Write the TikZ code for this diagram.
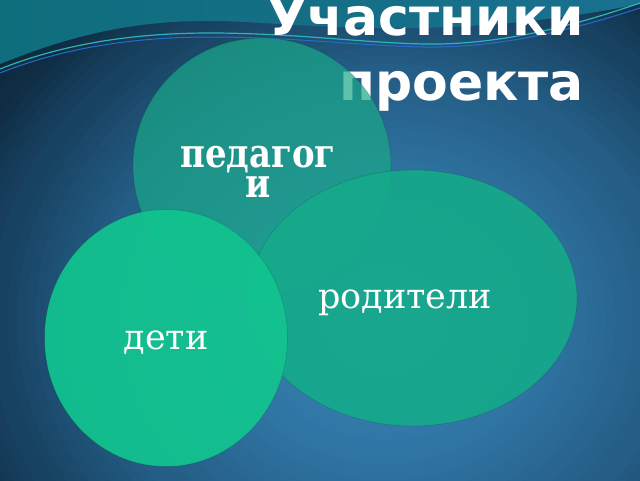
\documentclass[tikz,border=0pt]{standalone}
\usepackage{fontspec}
\usetikzlibrary{shapes.geometric}
\newfontfamily\ttlfont{DejaVu Sans Bold}
\newfontfamily\srffont{DejaVu Serif}
\newfontfamily\srfbfont[FakeStretch=0.85]{DejaVu Serif Bold}
\definecolor{bgA}{HTML}{3D8ABB}
\definecolor{bgB}{HTML}{3076A5}
\definecolor{bgC}{HTML}{245D85}
\definecolor{bgD}{HTML}{184262}
\definecolor{bgE}{HTML}{0E2C42}
\definecolor{bgF}{HTML}{081E2E}
\definecolor{waveL}{HTML}{0F6E7C}
\definecolor{waveR}{HTML}{1A7090}
\definecolor{lineC}{HTML}{2AB5B5}
\definecolor{lineB}{HTML}{2A6AD0}
\definecolor{pedC}{HTML}{1AA888}
\definecolor{rodC}{HTML}{15AA8A}
\definecolor{detC}{HTML}{12C48F}
\tikzset{
  blob/.style={ellipse, inner sep=0pt, outer sep=0pt, draw=black, draw opacity=0.12, line width=0.8pt},
  lbl/.style={text=white, inner sep=0pt, anchor=base},
  ttl/.style={text=white, inner sep=0pt, anchor=base east, font=\fontsize{52}{52}\ttlfont}
}
\begin{document}
\begin{tikzpicture}[x=1pt,y=-1pt]
\useasboundingbox (0,0) rectangle (640,480);
\clip (0,0) rectangle (640,480);
% background vignette
\fill[bgF] (0,0) rectangle (640,480);
\foreach \r in {480,472,...,408}{
  \pgfmathsetmacro\p{(480-\r)/72*100}
  \fill[bgE!\p!bgF] (385,320) ellipse [x radius=1.15*\r, y radius=\r];}
\foreach \r in {400,392,...,344}{
  \pgfmathsetmacro\p{(400-\r)/56*100}
  \fill[bgD!\p!bgE] (385,320) ellipse [x radius=1.15*\r, y radius=\r];}
\foreach \r in {336,328,...,256}{
  \pgfmathsetmacro\p{(336-\r)/80*100}
  \fill[bgC!\p!bgD] (385,320) ellipse [x radius=1.15*\r, y radius=\r];}
\foreach \r in {248,240,...,136}{
  \pgfmathsetmacro\p{(248-\r)/112*100}
  \fill[bgB!\p!bgC] (385,320) ellipse [x radius=1.15*\r, y radius=\r];}
\foreach \r in {128,120,...,8}{
  \pgfmathsetmacro\p{(128-\r)/120*100}
  \fill[bgA!\p!bgB] (385,320) ellipse [x radius=1.15*\r, y radius=\r];}
% top wave
\shade[left color=waveL, right color=waveR]
  (0,0) -- (640,0) -- (640,4) .. controls (560,20) and (480,28) .. (400,28)
  .. controls (300,28) and (250,20) .. (200,21)
  .. controls (120,22) and (60,40) .. (0,64) -- cycle;
\coordinate (wl1) at (0,69);
\coordinate (wr1) at (640,3);
\coordinate (wl2) at (0,73);
\coordinate (wr2) at (640,8);
\draw[lineC, line width=1.2pt] (wl1) .. controls (60,45) and (130,33) .. (210,33)
  .. controls (300,33) and (380,45) .. (440,44) .. controls (520,42) and (590,20) .. (wr1);
\draw[lineB, line width=1pt] (wl2) .. controls (60,49) and (130,37) .. (210,37)
  .. controls (300,37) and (380,48) .. (440,47) .. controls (520,45) and (590,24) .. (wr2);
% title
\node[ttl] (t1) at (584,35) {Участники};
\node[ttl] (t2) at (584,100) {проекта};
% circles
\node[blob, fill=pedC, fill opacity=0.7, minimum width=258pt, minimum height=256pt] (ped) at (262,166) {};
\node[blob, fill=rodC, fill opacity=0.9, minimum width=328pt, minimum height=256pt] (rod) at (413,298) {};
\node[blob, fill=detC, fill opacity=0.93, minimum width=243pt, minimum height=257pt] (det) at (166,338) {};
% labels
\node[lbl, align=center, font=\fontsize{40}{30}\srfbfont] (pedt) at (258,197) {педагог\\и};
\node[lbl, font=\fontsize{35}{35}\srffont] (rodt) at (405,308) {родители};
\node[lbl, font=\fontsize{35}{35}\srffont] (dett) at (166,349) {дети};
\end{tikzpicture}
\end{document}
